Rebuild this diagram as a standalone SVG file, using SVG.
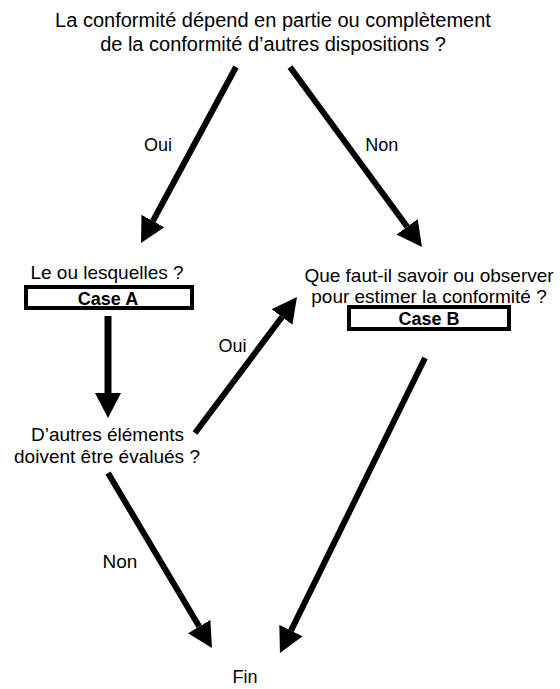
<svg xmlns="http://www.w3.org/2000/svg" width="560" height="689" viewBox="0 0 560 689">
<style>
  text { font-family: "Liberation Sans", Arial, sans-serif; fill: #000; text-anchor: middle; }
  .t20 { font-size: 20px; }
  .t19 { font-size: 19px; }
  .t18 { font-size: 18px; }
  .case { font-size: 18px; font-weight: bold; }
  .box { fill: #fff; stroke: #000; stroke-width: 4; }
  .arrow { fill: none; stroke: #000; stroke-width: 6; marker-end: url(#head); }
  .thick { stroke-width: 7; }
</style>
<defs>
  <marker id="head" viewBox="0 0 25 26" refX="0" refY="13" markerWidth="25" markerHeight="26" markerUnits="userSpaceOnUse" orient="auto">
    <path d="M0,0 L25,13 L0,26 z" fill="#000"/>
  </marker>
</defs>
<rect width="560" height="689" fill="#fff"/>

<g id="q1">
  <text class="t20" x="273" y="27">La conformité dépend en partie ou complètement</text>
  <text class="t20" x="273" y="51">de la conformité d’autres dispositions ?</text>
</g>

<g id="caseA">
  <text class="t19" x="107" y="278.5">Le ou lesquelles ?</text>
  <rect class="box" x="26" y="287" width="166" height="21"/>
  <text class="case" x="108" y="305">Case A</text>
</g>

<g id="caseB">
  <text class="t19" x="429" y="281.5">Que faut-il savoir ou observer</text>
  <text class="t19" x="429" y="303">pour estimer la conformité ?</text>
  <rect class="box" x="349" y="307" width="160" height="22"/>
  <text class="case" x="429" y="325">Case B</text>
</g>

<g id="q2">
  <text class="t19" x="107.5" y="440.7">D’autres éléments</text>
  <text class="t19" x="107" y="462.7">doivent être évalués ?</text>
</g>

<g id="fin">
  <text class="t18" x="245" y="683">Fin</text>
</g>

<g id="connectors">
  <path class="arrow" d="M236,67 L152.9,221"/>
  <path class="arrow" d="M290,67 L407.2,226.8"/>
  <path class="arrow thick" d="M108,316 L108,393"/>
  <path class="arrow" d="M195,433 L282,317"/>
  <path class="arrow" d="M108,473 L199.2,626.5"/>
  <path class="arrow" d="M425,358 L291,630.6"/>
  <text class="t18" x="158" y="151">Oui</text>
  <text class="t18" x="381.7" y="151">Non</text>
  <text class="t18" x="232.5" y="352">Oui</text>
  <text class="t19" x="120" y="568">Non</text>
</g>
</svg>
